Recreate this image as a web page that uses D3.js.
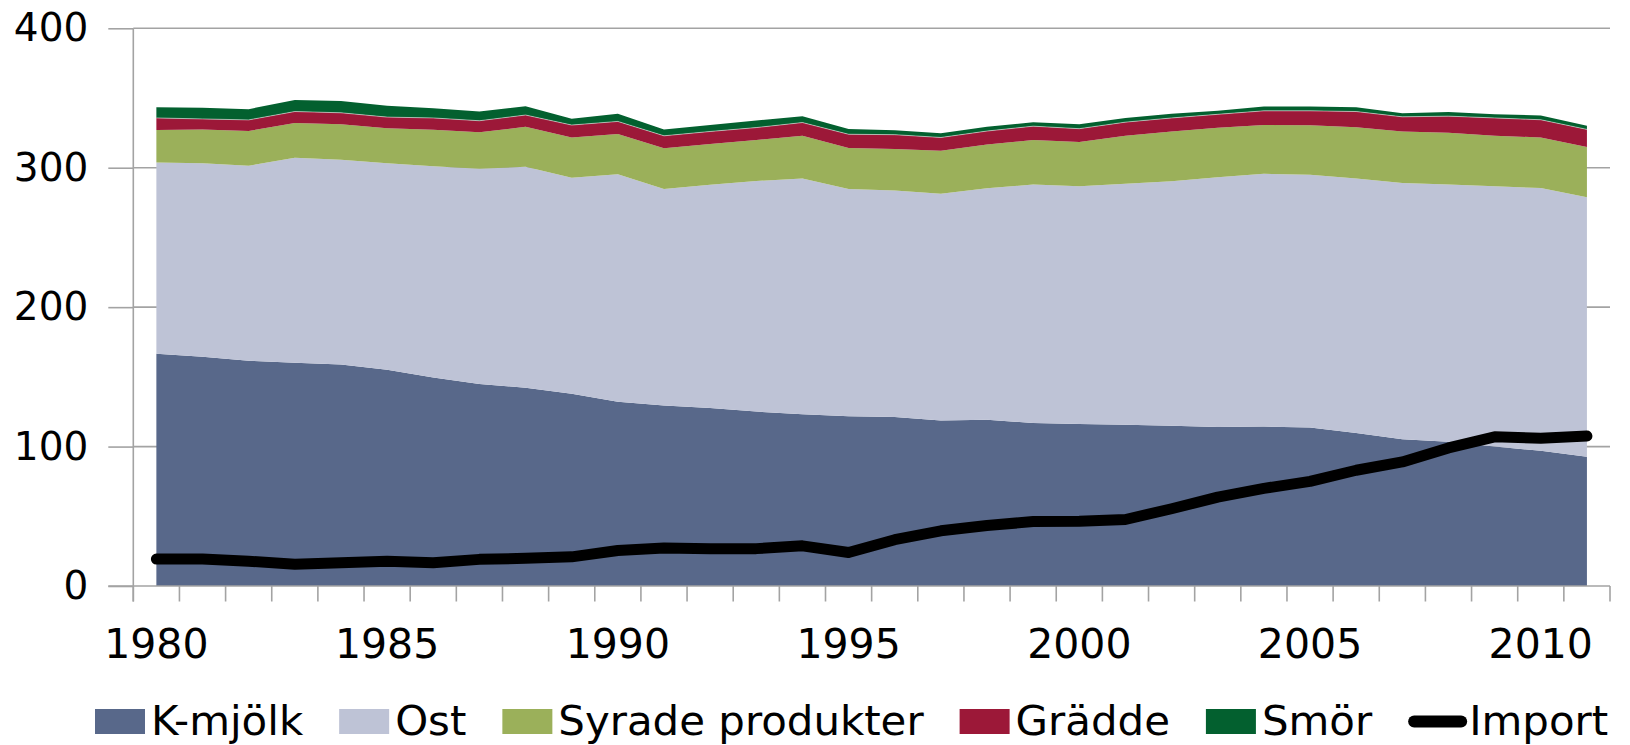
<!DOCTYPE html>
<html>
<head>
<meta charset="utf-8">
<script src="https://cdn.jsdelivr.net/npm/d3@7"></script>
<style>
  body { margin: 0; background: #fff; }
  svg text { font-family: "DejaVu Sans", Verdana, sans-serif; fill: #000; }
</style>
</head>
<body>
<div id="chart"></div>
<script>
// Konsumtion av mejeriprodukter (miljoner kg mjölkekvivalenter), 1980-2011
var years = [1980, 1981, 1982, 1983, 1984, 1985, 1986, 1987, 1988, 1989,
             1990, 1991, 1992, 1993, 1994, 1995, 1996, 1997, 1998, 1999,
             2000, 2001, 2002, 2003, 2004, 2005, 2006, 2007, 2008, 2009,
             2010, 2011];

var kmjolk = [166.5, 164.5, 161.6, 160.2, 158.8, 155.1, 149.5, 144.8, 142.2, 137.9,
              132.2, 129.4, 127.6, 125.1, 123.1, 121.8, 121.3, 118.7, 119.2, 116.9,
              116.2, 115.6, 114.9, 114.1, 114.4, 113.6, 109.8, 105.2, 103.4, 100.0,
              97.0, 92.7];
var ost = [137.2, 138.7, 139.9, 146.9, 146.9, 148.1, 151.5, 154.4, 158.5, 154.9,
           163.2, 155.3, 160.1, 165.4, 169.2, 162.9, 162.3, 162.6, 166.0, 171.1,
           170.5, 172.9, 175.4, 179.0, 181.2, 181.3, 182.5, 183.8, 184.6, 186.7,
           188.4, 186.1];
var syrade = [23.3, 24.3, 24.9, 24.9, 25.5, 25.2, 26.3, 26.3, 28.6, 28.9,
              28.8, 29.3, 29.4, 29.4, 30.7, 29.5, 29.9, 30.9, 31.4, 31.9,
              31.7, 34.5, 35.7, 35.5, 35.0, 35.5, 36.8, 37.0, 37.0, 36.3,
              36.3, 36.0];
var gradde = [8.7, 7.5, 7.9, 8.3, 8.2, 7.9, 8.4, 8.2, 8.5, 8.9,
              9.0, 8.9, 8.9, 8.9, 9.4, 9.8, 10.2, 9.5, 9.7, 9.9,
              9.6, 9.7, 9.7, 9.7, 10.2, 10.4, 11.2, 10.5, 12.0, 12.7,
              12.7, 12.7];
var smor = [7.7, 8.1, 7.7, 8.2, 8.5, 8.2, 6.9, 6.6, 6.3, 4.6,
            5.6, 4.6, 4.6, 5.1, 4.6, 3.7, 3.1, 3.0, 3.0, 2.9,
            3.1, 3.0, 3.1, 2.5, 3.1, 3.1, 3.1, 2.5, 3.0, 2.6,
            3.1, 2.6];
var importData = [19.3, 19.3, 17.8, 15.6, 16.7, 17.8, 16.6, 19.1, 19.9, 20.9,
                  25.5, 27.3, 26.8, 26.8, 28.8, 24.0, 33.2, 39.6, 43.4, 46.2,
                  46.5, 47.7, 55.4, 63.8, 70.0, 75.0, 83.0, 89.0, 99.0, 107.0,
                  106.0, 107.5];

var seriesNames = ["K-mjölk", "Ost", "Syrade produkter", "Grädde", "Smör"];
var seriesColors = ["#58688a", "#bec3d6", "#9bb05a", "#9c1838", "#03602f"];
var yTicks = [0, 100, 200, 300, 400];
var xLabels = [1980, 1985, 1990, 1995, 2000, 2005, 2010];

var W = 1630, H = 745;
var plotLeft = 133.3, plotRight = 1610, plotTop = 28.3, plotBottom = 586;
var axisGrey = "#a3a3a3";

var svg = d3.select("#chart").append("svg")
  .attr("width", W)
  .attr("height", H);

var x = d3.scaleBand().domain(years).range([plotLeft, plotRight]).padding(0);
var cx = function(yr) { return x(yr) + x.bandwidth() / 2; };
var y = d3.scaleLinear().domain([0, 400]).range([plotBottom, plotTop]);

// rows for stacking
var rows = years.map(function(yr, i) {
  return {year: yr, "K-mjölk": kmjolk[i], "Ost": ost[i], "Syrade produkter": syrade[i],
          "Grädde": gradde[i], "Smör": smor[i]};
});
var stacked = d3.stack().keys(seriesNames)(rows);

// gridlines (behind areas)
svg.append("g").selectAll("line")
  .data(yTicks.slice(1))
  .enter().append("line")
  .attr("x1", plotLeft).attr("x2", plotRight)
  .attr("y1", function(d) { return y(d); })
  .attr("y2", function(d) { return y(d); })
  .attr("stroke", axisGrey)
  .attr("stroke-width", 1.6);

var area = d3.area()
  .x(function(d) { return cx(d.data.year); })
  .y0(function(d) { return y(d[0]); })
  .y1(function(d) { return y(d[1]); });

svg.append("g").selectAll("path")
  .data(stacked)
  .enter().append("path")
  .attr("d", area)
  .attr("fill", function(d, i) { return seriesColors[i]; });

// faint light seam between Grädde and Smör
svg.append("path")
  .datum(stacked[3])
  .attr("d", d3.line().x(function(d) { return cx(d.data.year); }).y(function(d) { return y(d[1]); }))
  .attr("fill", "none")
  .attr("stroke", "#ffffff")
  .attr("stroke-opacity", 0.55)
  .attr("stroke-width", 0.9);

// y axis
var yAxis = svg.append("g")
  .attr("transform", "translate(" + plotLeft + ",0)")
  .call(d3.axisLeft(y).tickValues(yTicks).tickSize(25).tickPadding(20));
yAxis.select(".domain").attr("stroke", axisGrey).attr("stroke-width", 1.6)
  .attr("d", "M0," + plotTop + "V" + (plotBottom + 15.5));
yAxis.selectAll(".tick line").attr("stroke", axisGrey).attr("stroke-width", 1.6);
yAxis.selectAll(".tick text")
  .style("font-family", "'DejaVu Sans', Verdana, sans-serif")
  .style("font-size", "39px")
  .attr("fill", "#000");

// x axis line + tick marks at category boundaries
svg.append("line")
  .attr("x1", plotLeft - 25).attr("x2", plotRight)
  .attr("y1", plotBottom).attr("y2", plotBottom)
  .attr("stroke", axisGrey).attr("stroke-width", 1.6);
svg.append("g").selectAll("line")
  .data(years.concat([null]))
  .enter().append("line")
  .attr("x1", function(d) { return d === null ? plotRight : x(d); })
  .attr("x2", function(d) { return d === null ? plotRight : x(d); })
  .attr("y1", plotBottom).attr("y2", plotBottom + 15.5)
  .attr("stroke", axisGrey).attr("stroke-width", 1.6);

// x labels
var xAxis = svg.append("g")
  .attr("transform", "translate(0," + plotBottom + ")")
  .call(d3.axisBottom(x).tickValues(xLabels).tickSize(0).tickPadding(43));
xAxis.select(".domain").remove();
xAxis.selectAll(".tick text")
  .style("font-family", "'DejaVu Sans', Verdana, sans-serif")
  .style("font-size", "41px")
  .attr("fill", "#000");

// Import line
var line = d3.line()
  .x(function(d, i) { return cx(years[i]); })
  .y(function(d) { return y(d); });
svg.append("path")
  .datum(importData)
  .attr("d", line)
  .attr("fill", "none")
  .attr("stroke", "#000")
  .attr("stroke-width", 11)
  .attr("stroke-linejoin", "round")
  .attr("stroke-linecap", "round");

// legend
var legend = svg.append("g");
var lx = 95, baseline = 735, stretch = 1.022;
var legendItems = seriesNames.concat(["Import"]);
legendItems.forEach(function(name, i) {
  if (name === "Import") {
    legend.append("line")
      .attr("x1", lx + 6).attr("x2", lx + 53)
      .attr("y1", 721.5).attr("y2", 721.5)
      .attr("stroke", "#000").attr("stroke-width", 12)
      .attr("stroke-linecap", "round");
    lx += 61;
  } else {
    legend.append("rect")
      .attr("x", lx).attr("y", 709)
      .attr("width", 50).attr("height", 25)
      .attr("fill", seriesColors[i]);
    lx += 56;
  }
  var t = legend.append("text")
    .attr("transform", "translate(" + lx + "," + baseline + ") scale(" + stretch + ",1)")
    .style("font-size", "41px")
    .text(name);
  lx += t.node().getComputedTextLength() * stretch + 36;
});
</script>
</body>
</html>
